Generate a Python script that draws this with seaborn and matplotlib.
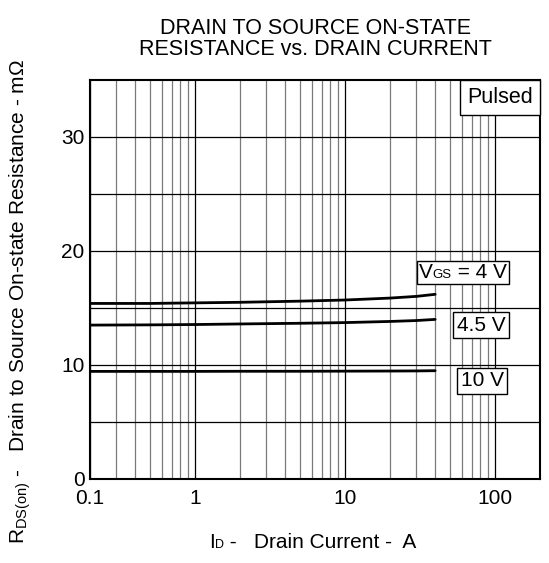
import numpy as np
import pandas as pd
import matplotlib
matplotlib.use('Agg')
import matplotlib.pyplot as plt
import seaborn as sns
from matplotlib.offsetbox import TextArea, HPacker, AnnotationBbox
from matplotlib.ticker import FixedLocator, NullFormatter

# drain current (A) and Rds(on) (mOhm)
id_amp = [0.2, 0.5, 1, 2, 5, 10, 20, 30, 40]
r_4v = [15.4, 15.4, 15.45, 15.5, 15.6, 15.7, 15.87, 16.02, 16.2]
r_45v = [13.5, 13.52, 13.55, 13.6, 13.66, 13.72, 13.82, 13.9, 14.0]
r_10v = [9.44, 9.44, 9.44, 9.45, 9.45, 9.46, 9.47, 9.48, 9.5]
vgs_names = ['4 V', '4.5 V', '10 V']

x_ticks = [0.2, 1, 10, 100]
x_ticklabels = ['0.1', '1', '10', '100']
y_ticks = [0, 10, 20, 30]

df = pd.DataFrame({
    'ID': id_amp * 3,
    'R': r_4v + r_45v + r_10v,
    'VGS': np.repeat(vgs_names, len(id_amp)),
})

sns.set_style('white')
plt.rcParams['font.family'] = ['Liberation Sans', 'DejaVu Sans']
plt.rcParams['mathtext.fontset'] = 'custom'
plt.rcParams['mathtext.rm'] = 'Liberation Sans'
plt.rcParams['text.color'] = 'black'
plt.rcParams['xtick.color'] = 'black'
plt.rcParams['ytick.color'] = 'black'

fig = plt.figure(figsize=(5.49, 5.63), dpi=100)
fig.subplots_adjust(left=90/549, right=540/549, bottom=84/563, top=483/563)
ax = fig.add_subplot(111)

sns.lineplot(data=df, x='ID', y='R', hue='VGS', palette=['black'] * 3,
             linewidth=2.0, legend=False, ax=ax, zorder=3)

ax.set(xscale='log')
ax.set_xlim(0.2, 200)
ax.set_ylim(0, 35)
ax.set_xticks(x_ticks)
ax.set_xticklabels(x_ticklabels)
ax.xaxis.set_minor_locator(FixedLocator(
    [m * 10.0 ** e for e in (-1, 0, 1) for m in range(2, 10) if m * 10.0 ** e > 0.2]))
ax.xaxis.set_minor_formatter(NullFormatter())
ax.set_yticks(y_ticks)
ax.set_yticks([5, 15, 25], minor=True)
ax.tick_params(which='both', length=0, labelsize=15)
ax.tick_params(axis='x', pad=7)
ax.tick_params(axis='y', pad=4)

ax.grid(which='major', axis='both', color='black', lw=0.9)
ax.grid(which='minor', axis='y', color='black', lw=0.9)
ax.grid(which='minor', axis='x', color='#7a7a7a', lw=0.9)
for s in ax.spines.values():
    s.set_color('black')
    s.set_linewidth(1.5)
ax.set_xlabel('')
ax.set_ylabel('')

ax.set_title('DRAIN TO SOURCE ON-STATE\nRESISTANCE vs. DRAIN CURRENT',
             fontsize=15.5, pad=18, linespacing=1.0, color='black')

# x axis label with small "D"
xl = HPacker(children=[TextArea('I', textprops=dict(size=15)),
                       TextArea('D', textprops=dict(size=9)),
                       TextArea(' -   Drain Current -  A', textprops=dict(size=15))],
             align='baseline', pad=0, sep=0)
fig.add_artist(AnnotationBbox(xl, (313/549, 1 - 552/563), xycoords='figure fraction',
                              frameon=False, box_alignment=(0.5, 0.0)))

fig.text(20/549, 1 - 302/563,
         r'R$_{\rm DS(on)}$ -   Drain to Source On-state Resistance - m$\Omega$',
         rotation=90, ha='center', va='center', fontsize=15)


def boxed(parts, xy, coords='data', align=(0.5, 0.5), pad=2.5):
    kids = [TextArea(t, textprops=dict(size=sz)) for t, sz in parts]
    pk = HPacker(children=kids, align='baseline', pad=pad, sep=0)
    ab = AnnotationBbox(pk, xy, xycoords=coords, frameon=True, box_alignment=align,
                        pad=0, zorder=5,
                        bboxprops=dict(boxstyle='square,pad=0', fc='white', ec='black', lw=1.0))
    ax.add_artist(ab)


boxed([('V', 15), ('GS', 9.5), (' = 4 V', 15)], (61, 18.1), pad=1.5)
boxed([('4.5 V', 15)], (81, 13.5))
boxed([('10 V', 15)], (82.5, 8.6))
boxed([('Pulsed', 15.5)], (1, 1), coords='axes fraction', align=(1, 1), pad=5)

fig.savefig('out.png', dpi=100)
